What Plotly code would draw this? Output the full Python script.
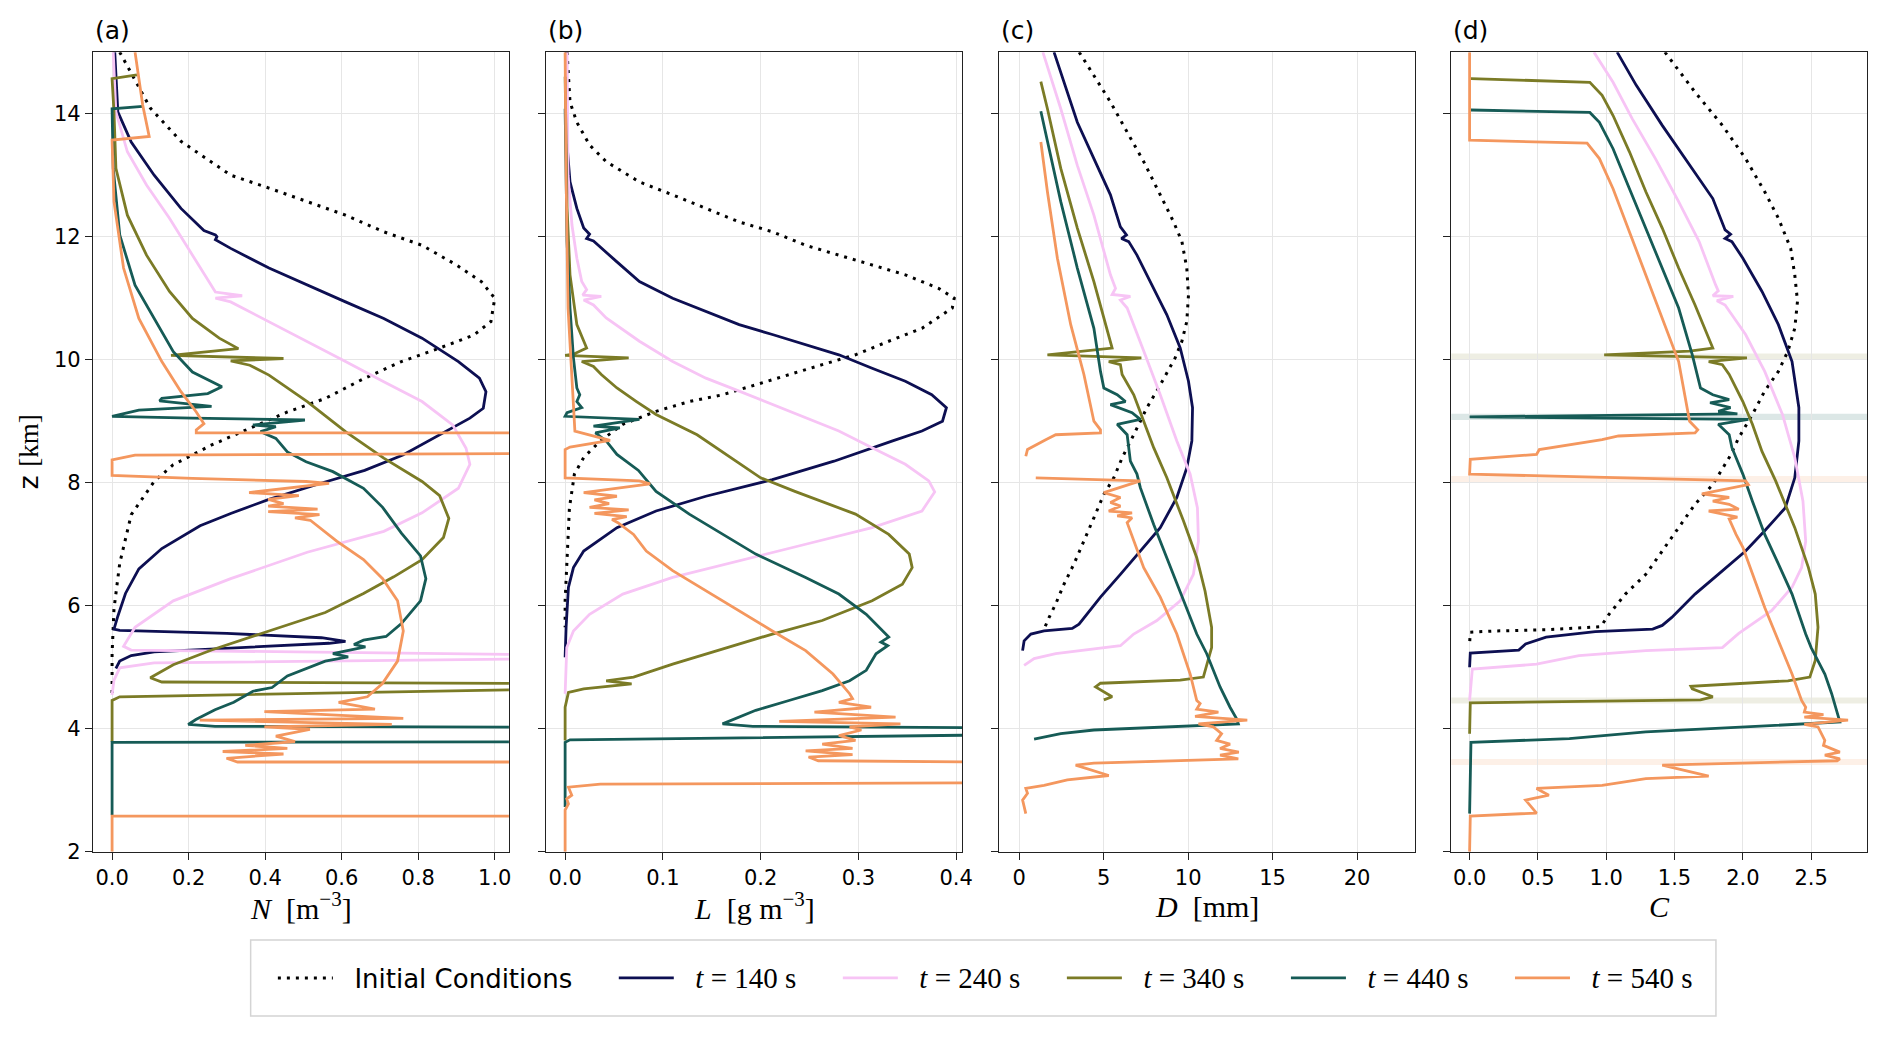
import plotly.graph_objects as go

# profiles stored as (z [km], value) pairs, top to bottom
# ---------------- (a) number concentration N ----------------
N_ic = [(15.0, 0.02), (14.09, 0.10), (13.55, 0.18), (13.0, 0.31), (12.79, 0.41), (12.57, 0.51),
        (12.35, 0.61), (12.08, 0.71), (11.86, 0.81), (11.54, 0.90), (11.27, 0.965), (11.0, 1.0),
        (10.62, 0.99), (10.40, 0.945), (10.19, 0.856), (9.97, 0.756), (9.69, 0.657), (9.37, 0.557),
        (9.15, 0.458), (8.88, 0.358), (8.61, 0.259), (8.29, 0.159), (8.02, 0.11), (7.48, 0.05),
        (6.69, 0.02), (5.95, 0.005), (5.22, 0.0), (4.55, 0.0)]
N_140 = [(15.0, 0.007), (14.03, 0.015), (13.54, 0.05), (13.0, 0.11), (12.46, 0.18), (12.1, 0.24),
         (12.03, 0.27), (12.0, 0.274), (11.95, 0.27), (11.81, 0.31), (11.49, 0.41), (11.21, 0.51),
         (10.94, 0.61), (10.67, 0.71), (10.35, 0.81), (9.97, 0.905), (9.70, 0.96), (9.48, 0.977),
         (9.21, 0.97), (9.05, 0.935), (8.78, 0.856), (8.45, 0.76), (8.2, 0.66), (8.0, 0.55),
         (7.73, 0.41), (7.5, 0.31), (7.3, 0.23), (6.93, 0.13), (6.6, 0.07), (6.2, 0.035),
         (5.83, 0.015), (5.62, 0.005), (5.60, 0.02), (5.55, 0.3), (5.48, 0.547), (5.42, 0.61),
         (5.39, 0.567), (5.34, 0.41), (5.25, 0.11), (5.19, 0.05), (5.10, 0.02), (4.98, 0.01)]
N_240 = [(15.0, 0.003), (14.03, 0.01), (13.38, 0.04), (12.84, 0.09), (12.3, 0.15), (11.7, 0.21),
         (11.21, 0.26), (11.1, 0.27), (11.04, 0.34), (11.0, 0.27), (10.94, 0.31), (10.62, 0.41),
         (10.29, 0.51), (9.97, 0.61), (9.64, 0.71), (9.32, 0.81), (8.94, 0.89), (8.56, 0.925),
         (8.3, 0.935), (7.91, 0.905), (7.51, 0.81), (7.21, 0.71), (6.87, 0.51), (6.44, 0.31),
         (6.08, 0.16), (5.65, 0.06), (5.34, 0.03), (5.28, 0.05), (5.19, 1.3), (5.15, 1.3),
         (5.07, 0.11), (4.99, 0.02), (4.79, 0.005), (4.55, 0.0)]
N_340 = [(14.63, 0.065), (14.57, 0.0), (14.03, 0.005), (13.11, 0.01), (12.35, 0.04), (11.70, 0.09),
         (11.11, 0.15), (10.67, 0.21), (10.35, 0.28), (10.18, 0.33), (10.07, 0.154), (10.02, 0.448),
         (9.98, 0.31), (9.91, 0.36), (9.75, 0.41), (9.32, 0.51), (8.83, 0.61), (8.40, 0.71),
         (8.02, 0.81), (7.79, 0.856), (7.42, 0.88), (7.11, 0.866), (6.75, 0.81), (6.47, 0.736),
         (6.2, 0.657), (5.89, 0.557), (5.59, 0.41), (5.28, 0.26), (5.04, 0.16), (4.83, 0.10),
         (4.76, 0.13), (4.73, 1.3), (4.66, 1.3), (4.52, 0.02), (4.46, 0.0), (3.79, 0.0)]
N_440 = [(14.12, 0.08), (14.08, 0.0), (13.11, 0.003), (12.03, 0.02), (11.21, 0.06), (10.67, 0.11),
         (10.13, 0.16), (9.80, 0.21), (9.64, 0.26), (9.56, 0.287), (9.45, 0.25), (9.37, 0.13),
         (9.33, 0.124), (9.24, 0.26), (9.18, 0.07), (9.08, 0.0), (9.05, 0.21), (9.02, 0.504),
         (8.94, 0.368), (8.91, 0.428), (8.83, 0.388), (8.72, 0.428), (8.50, 0.458), (8.34, 0.507),
         (8.18, 0.577), (7.91, 0.657), (7.60, 0.707), (7.18, 0.756), (6.81, 0.806), (6.44, 0.82),
         (6.08, 0.806), (5.71, 0.756), (5.50, 0.716), (5.44, 0.657), (5.37, 0.632), (5.33, 0.662),
         (5.22, 0.577), (5.17, 0.617), (5.10, 0.557), (4.86, 0.458), (4.67, 0.418), (4.61, 0.368),
         (4.43, 0.318), (4.31, 0.269), (4.15, 0.219), (4.07, 0.199), (4.04, 0.269), (4.02, 1.3),
         (3.79, 1.3), (3.78, 0.0), (2.6, 0.0)]
N_540 = [(15.0, 0.06), (14.14, 0.08), (13.63, 0.097), (13.57, 0.0), (12.57, 0.005), (11.49, 0.03),
         (10.67, 0.07), (9.97, 0.13), (9.48, 0.18), (9.15, 0.22), (8.96, 0.24), (8.86, 0.22),
         (8.81, 0.22), (8.81, 1.3), (8.48, 1.3), (8.45, 0.06), (8.37, 0.0), (8.12, 0.0),
         (8.07, 0.21), (8.02, 0.507), (7.99, 0.567), (7.84, 0.358), (7.79, 0.488), (7.73, 0.408),
         (7.66, 0.448), (7.62, 0.408), (7.57, 0.537), (7.53, 0.408), (7.48, 0.542), (7.43, 0.478),
         (7.39, 0.518), (7.05, 0.587), (6.75, 0.657), (6.44, 0.707), (6.08, 0.746), (5.59, 0.761),
         (5.10, 0.746), (4.73, 0.706), (4.52, 0.667), (4.43, 0.592), (4.32, 0.687), (4.28, 0.398),
         (4.17, 0.761), (4.14, 0.229), (4.07, 0.731), (4.03, 0.398), (3.99, 0.517), (3.88, 0.428),
         (3.79, 0.478), (3.73, 0.348), (3.68, 0.458), (3.63, 0.289), (3.59, 0.448), (3.52, 0.299),
         (3.46, 0.328), (3.46, 1.3), (2.58, 1.3), (2.58, 0.0), (2.0, 0.0)]

# ---------------- (b) liquid water content L ----------------
L_ic = [(15.0, 0.002), (14.19, 0.005), (13.86, 0.012), (13.49, 0.025), (13.22, 0.042), (12.89, 0.076),
        (12.68, 0.11), (12.46, 0.144), (12.24, 0.178), (12.08, 0.212), (11.86, 0.246), (11.70, 0.28),
        (11.54, 0.314), (11.38, 0.348), (11.16, 0.382), (11.0, 0.398), (10.84, 0.396), (10.51, 0.365),
        (10.30, 0.331), (10.08, 0.297), (9.92, 0.263), (9.76, 0.229), (9.59, 0.195), (9.43, 0.161),
        (9.32, 0.127), (9.16, 0.093), (8.95, 0.059), (8.68, 0.036), (8.41, 0.019), (8.14, 0.0095),
        (7.59, 0.0044), (6.78, 0.0017), (6.08, 0.0), (5.65, 0.0)]
L_140 = [(15.0, 0.001), (13.54, 0.0017), (12.89, 0.005), (12.46, 0.012), (12.14, 0.019), (12.04, 0.025),
         (11.97, 0.022), (11.93, 0.029), (11.59, 0.053), (11.27, 0.076), (11.0, 0.11), (10.78, 0.144),
         (10.57, 0.178), (10.41, 0.212), (10.24, 0.246), (10.08, 0.28), (9.86, 0.314), (9.65, 0.348),
         (9.43, 0.375), (9.22, 0.39), (9.0, 0.386), (8.84, 0.365), (8.68, 0.335), (8.35, 0.275),
         (8.05, 0.212), (7.78, 0.144), (7.54, 0.093), (7.27, 0.053), (6.89, 0.019), (6.62, 0.0085),
         (6.30, 0.0034), (5.65, 0.001), (5.16, 0.0)]
L_240 = [(15.0, 0.002), (13.0, 0.003), (12.19, 0.007), (11.65, 0.012), (11.27, 0.017), (11.14, 0.022),
         (11.05, 0.018), (11.03, 0.037), (10.97, 0.019), (10.89, 0.029), (10.68, 0.042), (10.30, 0.076),
         (9.97, 0.11), (9.70, 0.144), (9.49, 0.178), (9.27, 0.212), (9.05, 0.246), (8.84, 0.28),
         (8.57, 0.314), (8.30, 0.348), (8.03, 0.372), (7.85, 0.378), (7.54, 0.365), (7.27, 0.314),
         (7.0, 0.246), (6.73, 0.178), (6.46, 0.11), (6.19, 0.059), (5.86, 0.025), (5.59, 0.0085),
         (5.32, 0.0017), (4.57, 0.0)]
L_340 = [(14.6, 0.0), (12.46, 0.002), (11.38, 0.005), (10.57, 0.012), (10.19, 0.022), (10.09, 0.0085),
         (10.07, 0.0), (10.03, 0.065), (9.97, 0.017), (9.89, 0.029), (9.76, 0.037), (9.54, 0.053),
         (9.32, 0.073), (9.11, 0.093), (8.78, 0.135), (8.46, 0.165), (8.08, 0.2), (7.86, 0.235),
         (7.49, 0.297), (7.16, 0.331), (6.84, 0.352), (6.62, 0.355), (6.35, 0.345), (6.08, 0.314),
         (5.76, 0.263), (5.54, 0.212), (5.30, 0.161), (5.05, 0.11), (4.84, 0.07), (4.78, 0.042),
         (4.73, 0.068), (4.65, 0.019), (4.59, 0.0034), (4.35, 0.0), (3.81, 0.0)]
L_440 = [(14.08, 0.0), (11.92, 0.002), (10.84, 0.005), (10.03, 0.0085), (9.54, 0.012), (9.43, 0.015),
         (9.32, 0.012), (9.22, 0.017), (9.14, 0.002), (9.08, 0.0), (9.03, 0.076), (8.92, 0.029),
         (8.89, 0.056), (8.81, 0.031), (8.68, 0.042), (8.46, 0.053), (8.2, 0.075), (7.86, 0.093),
         (7.49, 0.127), (7.16, 0.161), (6.84, 0.195), (6.46, 0.246), (6.19, 0.28), (5.86, 0.308),
         (5.49, 0.331), (5.41, 0.323), (5.35, 0.33), (5.22, 0.318), (4.95, 0.308), (4.78, 0.291),
         (4.62, 0.263), (4.46, 0.229), (4.30, 0.195), (4.08, 0.161), (4.04, 0.192), (4.0, 0.6),
         (3.93, 0.6), (3.82, 0.005), (3.78, 0.0), (2.73, 0.0)]
L_540 = [(15.0, 0.0), (13.0, 0.001), (10.84, 0.003), (9.76, 0.007), (9.22, 0.0085), (8.84, 0.010),
         (8.69, 0.046), (8.58, 0.005), (8.54, 0.0), (8.08, 0.0), (8.03, 0.076), (7.98, 0.087),
         (7.84, 0.019), (7.78, 0.053), (7.72, 0.03), (7.66, 0.045), (7.60, 0.025), (7.56, 0.065),
         (7.50, 0.03), (7.45, 0.063), (7.40, 0.048), (7.35, 0.054), (7.16, 0.07), (6.89, 0.083),
         (6.57, 0.11), (6.24, 0.144), (5.92, 0.178), (5.59, 0.212), (5.27, 0.246), (4.89, 0.274),
         (4.57, 0.291), (4.49, 0.294), (4.43, 0.28), (4.35, 0.313), (4.27, 0.255), (4.19, 0.338),
         (4.12, 0.219), (4.08, 0.343), (4.03, 0.291), (3.98, 0.303), (3.89, 0.28), (3.81, 0.297),
         (3.75, 0.263), (3.68, 0.294), (3.64, 0.246), (3.58, 0.294), (3.54, 0.249), (3.48, 0.259),
         (3.44, 0.6), (3.13, 0.6), (3.10, 0.036), (3.05, 0.0034), (2.92, 0.0068), (2.86, 0.0017),
         (2.78, 0.0034), (2.68, 0.0), (2.0, 0.0)]

# ---------------- (c) mean diameter D ----------------
D_ic = [(15.0, 3.55), (14.62, 4.42), (14.19, 5.40), (13.70, 6.39), (13.22, 7.37), (12.68, 8.35),
        (12.24, 9.14), (11.92, 9.63), (11.49, 9.92), (11.05, 10.02), (10.62, 9.92), (10.30, 9.63),
        (10.03, 9.23), (9.59, 8.35), (9.22, 7.56), (8.78, 6.78), (8.41, 6.1), (8.08, 5.6),
        (7.81, 5.01), (7.43, 4.42), (7.05, 3.83), (6.68, 3.24), (6.35, 2.65), (6.03, 2.16),
        (5.81, 1.77), (5.62, 1.47)]
D_140 = [(15.0, 2.06), (14.51, 2.65), (13.86, 3.44), (13.27, 4.42), (12.68, 5.40), (12.16, 5.99),
         (12.03, 6.35), (11.97, 6.05), (11.92, 6.48), (11.70, 6.97), (11.27, 7.76), (10.73, 8.74),
         (10.19, 9.53), (9.65, 10.02), (9.22, 10.26), (8.68, 10.22), (8.24, 9.92), (7.76, 9.33),
         (7.27, 8.35), (6.95, 7.37), (6.51, 5.99), (6.14, 4.81), (5.70, 3.54), (5.63, 3.14),
         (5.59, 1.47), (5.54, 0.69), (5.43, 0.29), (5.27, 0.2)]
D_240 = [(15.0, 1.4), (14.08, 2.46), (13.16, 3.44), (12.35, 4.42), (11.38, 5.40), (11.16, 5.70),
         (11.06, 5.50), (11.03, 6.58), (10.97, 5.99), (10.84, 6.39), (10.14, 7.37), (9.43, 8.35),
         (8.68, 9.33), (8.14, 10.12), (7.59, 10.55), (7.05, 10.61), (6.51, 10.31), (6.08, 9.53),
         (5.76, 8.15), (5.54, 6.78), (5.35, 5.99), (5.22, 2.16), (5.14, 0.88), (5.03, 0.29)]
D_340 = [(14.52, 1.28), (14.08, 1.67), (13.11, 2.46), (12.14, 3.44), (11.27, 4.42), (10.19, 5.50),
         (10.08, 1.67), (10.03, 7.23), (9.97, 5.30), (9.92, 5.99), (9.76, 6.09), (9.43, 6.78),
         (9.0, 7.37), (8.57, 7.96), (8.08, 8.74), (7.38, 9.72), (6.78, 10.51), (6.24, 11.0),
         (5.65, 11.39), (5.32, 11.39), (4.84, 10.90), (4.79, 9.53), (4.74, 4.81), (4.68, 4.52),
         (4.52, 5.50), (4.47, 5.01)]
D_440 = [(14.04, 1.28), (13.54, 1.67), (12.57, 2.46), (11.49, 3.44), (10.51, 4.42), (9.81, 4.81),
         (9.54, 5.01), (9.43, 5.80), (9.32, 6.29), (9.27, 5.40), (9.14, 6.68), (9.03, 7.17),
         (8.95, 5.80), (8.78, 6.39), (8.57, 6.5), (8.35, 6.58), (8.14, 6.97), (7.92, 7.17),
         (7.32, 7.96), (6.78, 8.74), (6.24, 9.53), (5.54, 10.51), (5.22, 11.1), (4.68, 11.89),
         (4.35, 12.48), (4.16, 12.87), (4.08, 12.97), (4.03, 8.35), (3.98, 4.42), (3.92, 2.46),
         (3.83, 0.88)]
D_540 = [(13.54, 1.28), (12.73, 1.67), (11.65, 2.26), (10.57, 3.05), (9.76, 3.83), (9.0, 4.42),
         (8.86, 4.81), (8.81, 4.81), (8.78, 2.16), (8.70, 1.57), (8.54, 0.49), (8.43, 0.39),
         (None, None),
         (8.08, 0.98), (8.03, 7.17), (7.84, 5.01), (7.76, 5.99), (7.68, 5.40), (7.62, 5.99),
         (7.54, 5.30), (7.51, 6.68), (7.46, 5.80), (7.43, 6.68), (7.35, 6.39), (7.05, 6.78),
         (6.62, 7.37), (6.14, 8.35), (5.54, 9.33), (4.89, 10.12), (4.46, 10.51), (4.41, 10.71),
         (4.32, 10.51), (4.27, 11.79), (4.20, 10.41), (4.14, 13.5), (4.08, 10.61), (4.03, 11.49),
         (3.92, 11.98), (3.81, 11.69), (3.75, 12.48), (3.68, 11.89), (3.62, 13.0), (3.57, 11.89),
         (3.51, 12.97), (3.44, 4.42), (3.41, 3.34), (3.24, 5.30), (3.17, 2.85), (3.08, 1.47),
         (3.03, 0.39), (2.95, 0.49), (2.84, 0.2), (2.62, 0.39)]

# ---------------- (d) C ----------------
C_ic = [(15.0, 1.43), (14.35, 1.65), (13.81, 1.85), (13.27, 2.02), (12.73, 2.16), (12.30, 2.26),
        (11.81, 2.35), (11.38, 2.38), (10.95, 2.40), (10.51, 2.38), (10.14, 2.33), (9.81, 2.26),
        (9.49, 2.16), (9.11, 2.07), (8.73, 1.97), (8.41, 1.90), (7.97, 1.78), (7.65, 1.65),
        (7.27, 1.53), (6.89, 1.41), (6.51, 1.29), (6.19, 1.14), (5.86, 1.02), (5.66, 0.96),
        (5.61, 0.56), (5.59, 0.19), (5.57, 0.005), (5.38, 0.0)]
C_140 = [(15.0, 1.08), (14.46, 1.22), (13.81, 1.41), (13.16, 1.61), (12.62, 1.78), (12.11, 1.87),
         (12.04, 1.91), (11.97, 1.87), (11.92, 1.92), (11.65, 2.0), (11.11, 2.14), (10.57, 2.26),
         (9.97, 2.36), (9.22, 2.41), (8.68, 2.41), (8.08, 2.38), (7.59, 2.31), (7.22, 2.16),
         (6.89, 2.02), (6.51, 1.82), (6.19, 1.65), (5.81, 1.48), (5.68, 1.41), (5.62, 1.34),
         (5.58, 0.92), (5.49, 0.56), (5.38, 0.41), (5.28, 0.36), (5.23, 0.005), (5.0, 0.0)]
C_240 = [(15.0, 0.91), (14.51, 1.05), (13.92, 1.19), (13.27, 1.36), (12.57, 1.53), (11.92, 1.68),
         (11.22, 1.80), (11.12, 1.82), (11.04, 1.78), (11.03, 1.93), (10.96, 1.81), (10.89, 1.87),
         (10.41, 2.02), (9.81, 2.16), (9.11, 2.29), (8.41, 2.38), (7.70, 2.44), (7.05, 2.46),
         (6.62, 2.43), (6.30, 2.36), (5.92, 2.21), (5.65, 2.04), (5.55, 1.97), (5.32, 1.85),
         (5.27, 1.29), (5.19, 0.80), (5.05, 0.49), (4.97, 0.02), (4.46, 0.0)]
C_340 = [(14.57, 0.01), (14.51, 0.88), (14.30, 0.97), (13.97, 1.05), (13.38, 1.17), (12.73, 1.29),
         (12.14, 1.41), (11.49, 1.53), (10.89, 1.65), (10.19, 1.78), (10.14, 1.61), (10.08, 0.985),
         (10.03, 2.03), (9.97, 1.75), (9.92, 1.85), (9.76, 1.90), (9.32, 2.0), (8.95, 2.07),
         (8.51, 2.14), (8.03, 2.24), (7.27, 2.38), (6.62, 2.48), (6.19, 2.53), (5.65, 2.55),
         (5.11, 2.53), (4.84, 2.49), (4.78, 2.33), (4.69, 1.62), (4.65, 1.63), (4.52, 1.78),
         (4.47, 1.69), (4.42, 0.005), (3.92, 0.0)]
C_440 = [(14.06, 0.01), (14.02, 0.88), (13.86, 0.95), (13.43, 1.05), (12.78, 1.17), (12.14, 1.29),
         (11.49, 1.41), (10.84, 1.53), (10.08, 1.63), (9.54, 1.69), (9.43, 1.78), (9.35, 1.90),
         (9.30, 1.76), (9.22, 1.91), (9.16, 1.82), (9.12, 1.96), (9.07, 0.0), (9.03, 2.04),
         (8.95, 1.82), (8.78, 1.90), (8.57, 1.92), (8.30, 1.97), (8.14, 2.0), (7.70, 2.07),
         (7.16, 2.16), (6.68, 2.26), (6.19, 2.36), (5.54, 2.46), (5.32, 2.50), (4.89, 2.60),
         (4.57, 2.65), (4.19, 2.70), (4.11, 2.71), (4.03, 2.02), (3.95, 1.29), (3.84, 0.73),
         (3.78, 0.01), (2.62, 0.0)]
C_540 = [(15.0, 0.0), (13.57, 0.0), (13.52, 0.86), (13.27, 0.95), (12.78, 1.05), (12.08, 1.17),
         (11.38, 1.29), (10.68, 1.41), (9.97, 1.53), (9.0, 1.61), (8.86, 1.67), (8.81, 1.65),
         (8.76, 1.09), (8.70, 0.97), (8.54, 0.51), (8.46, 0.49), (8.38, 0.005), (8.14, 0.0),
         (8.03, 2.02), (7.97, 2.04), (7.82, 1.70), (7.76, 1.90), (7.70, 1.78), (7.65, 1.90),
         (7.57, 1.97), (7.54, 1.75), (7.49, 1.85), (7.44, 1.96), (7.41, 1.90), (7.16, 1.95),
         (6.95, 2.0), (6.51, 2.07), (5.97, 2.16), (5.43, 2.26), (4.89, 2.36), (4.46, 2.43),
         (4.35, 2.46), (4.27, 2.45), (4.23, 2.59), (4.19, 2.45), (4.14, 2.77), (4.07, 2.45),
         (4.03, 2.55), (3.81, 2.60), (3.73, 2.59), (3.62, 2.71), (3.57, 2.60), (3.51, 2.71),
         (3.48, 2.69), (3.41, 1.41), (3.23, 1.75), (3.19, 1.29), (3.08, 0.97), (3.03, 0.49),
         (2.92, 0.58), (2.84, 0.41), (2.63, 0.49), (2.58, 0.005), (2.0, 0.0)]

# faint horizontal bands in panel (d): (height km, series index)
band_z = [10.05, 9.07, 8.06, 4.46, 3.46]
band_series = [2, 3, 4, 2, 4]

series_names = ["Initial Conditions", "t = 140 s", "t = 240 s", "t = 340 s", "t = 440 s", "t = 540 s"]
colors = ["black", "#0d0f52", "#f7c4f5", "#7b7b26", "#165b56", "#f4975e"]
band_rgba = {2: "rgba(123,123,38,0.13)", 3: "rgba(22,91,86,0.15)", 4: "rgba(244,151,94,0.15)"}

panels = [
    [N_ic, N_140, N_240, N_340, N_440, N_540],
    [L_ic, L_140, L_240, L_340, L_440, L_540],
    [D_ic, D_140, D_240, D_340, D_440, D_540],
    [C_ic, C_140, C_240, C_340, C_440, C_540],
]
x_ranges = [[-0.0498, 1.037], [-0.0194, 0.406], [-1.18, 23.44], [-0.134, 2.91]]
x_ticks = [[0, 0.2, 0.4, 0.6, 0.8, 1.0], [0, 0.1, 0.2, 0.3, 0.4], [0, 5, 10, 15, 20],
           [0, 0.5, 1.0, 1.5, 2.0, 2.5]]
x_fmt = [".1f", ".1f", "d", ".1f"]
x_titles = ["<i>N</i>  [m<sup>\u22123</sup>]", "<i>L</i>  [g m<sup>\u22123</sup>]",
            "<i>D</i>  [mm]", "<i>C</i>"]
panel_tags = ["(a)", "(b)", "(c)", "(d)"]
z_ticks = [2, 4, 6, 8, 10, 12, 14]

domains = [[0.0452, 0.2663], [0.2861, 0.5072], [0.5270, 0.7481], [0.7673, 0.9884]]
ydom = [0.1784, 0.957]


def split(pairs):
    z = [p[0] for p in pairs]
    v = [p[1] for p in pairs]
    return v, z


def legend_name(i):
    pad = "&nbsp;" * 2
    gap = "<span style='font-size:23px'>" + "&nbsp;" * 5 + "</span>"
    if i == 0:
        return pad + series_names[0] + gap
    t = series_names[i].replace("t = ", "")
    txt = pad + "<span style='font-family:Liberation Serif;font-size:29px'><i>t</i> = " + t + "</span>"
    if i < 5:
        txt += gap
    return txt


fig = go.Figure()

for p, curves in enumerate(panels):
    ax = "" if p == 0 else str(p + 1)
    for i, pairs in enumerate(curves):
        v, z = split(pairs)
        if i == 0:
            line = dict(color=colors[i], width=3, dash="3px,6px")
        else:
            line = dict(color=colors[i], width=2.8)
        fig.add_trace(go.Scatter(
            x=v, y=z, mode="lines", line=line,
            name=legend_name(i), showlegend=(p == 0),
            xaxis="x" + ax, yaxis="y" + ax, hoverinfo="skip"
        ))

layout = dict(
    width=1892, height=1039, autosize=False,
    margin=dict(l=0, r=0, t=0, b=0),
    paper_bgcolor="white", plot_bgcolor="white",
    font=dict(family="DejaVu Sans", size=21, color="black"),
    showlegend=True,
    legend=dict(orientation="h", x=0.5196, xanchor="center", y=0.0555, yanchor="middle",
                font=dict(family="DejaVu Sans", size=26, color="black"),
                bgcolor="rgba(0,0,0,0)", borderwidth=0, itemwidth=55),
)

for p in range(4):
    ax = "" if p == 0 else str(p + 1)
    layout["xaxis" + ax] = dict(
        domain=domains[p], range=x_ranges[p], anchor="y" + ax,
        tickvals=x_ticks[p], tickformat=x_fmt[p],
        showgrid=True, gridcolor="#e6e6e6", gridwidth=1, zeroline=False,
        showline=True, linecolor="#222222", linewidth=1.3, mirror=True,
        ticks="outside", ticklen=7, tickwidth=1.3, tickcolor="#222222",
        tickfont=dict(family="DejaVu Sans", size=21),
    )
    layout["yaxis" + ax] = dict(
        domain=ydom, range=[2, 15], anchor="x" + ax,
        tickvals=z_ticks, showticklabels=(p == 0),
        showgrid=True, gridcolor="#e6e6e6", gridwidth=1, zeroline=False,
        showline=True, linecolor="#222222", linewidth=1.3, mirror=True,
        ticks="outside", ticklen=7, tickwidth=1.3, tickcolor="#222222",
        tickfont=dict(family="DejaVu Sans", size=21),
    )
layout["yaxis"]["title"] = dict(
    text="z <span style='font-family:Liberation Serif'>[km]</span>", standoff=7,
    font=dict(family="DejaVu Sans", size=27))

fig.update_layout(**layout)

# panel tags and x-axis titles
for p in range(4):
    ax = "x" if p == 0 else "x" + str(p + 1)
    fig.add_annotation(text=panel_tags[p], xref=ax + " domain", x=0, xanchor="left",
                       yref="paper", y=0.978, yanchor="middle", showarrow=False,
                       font=dict(family="DejaVu Sans", size=25))
    fig.add_annotation(text=x_titles[p], xref=ax + " domain", x=0.5, xanchor="center",
                       yref="paper", y=0.1255, yanchor="middle", showarrow=False,
                       font=dict(family="Liberation Serif", size=30))

# bands in panel (d)
for zc, s in zip(band_z, band_series):
    fig.add_shape(type="rect", xref="x4 domain", x0=0, x1=1, yref="y4",
                  y0=zc - 0.05, y1=zc + 0.05, fillcolor=band_rgba[s],
                  line=dict(width=0), layer="below")

# legend frame
fig.add_shape(type="rect", xref="paper", yref="paper", x0=0.1290, x1=0.9080,
              y0=0.0185, y1=0.0925, line=dict(color="#d4d4d4", width=1.5))

fig.write_html("out.html")
